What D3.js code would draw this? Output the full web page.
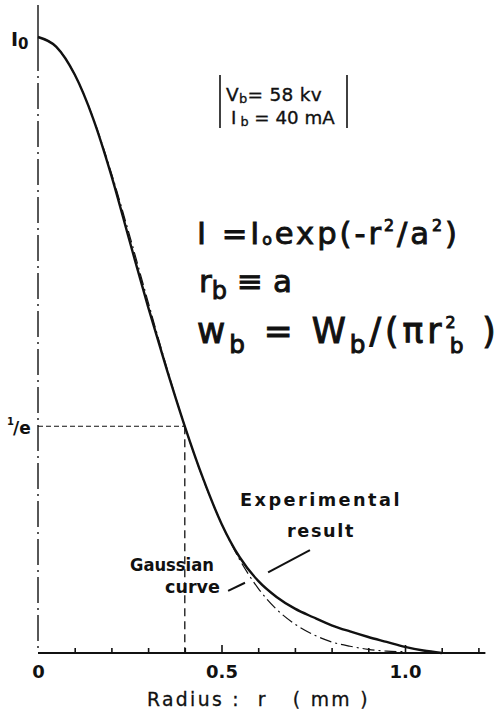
<!DOCTYPE html>
<html>
<head>
<meta charset="utf-8">
<script src="https://cdn.jsdelivr.net/npm/d3@7/dist/d3.min.js"></script>
<style>
  html, body { margin: 0; padding: 0; background: #fff; }
  svg { display: block; }
  text { font-family: "DejaVu Sans", sans-serif; fill: #111; }
</style>
</head>
<body>
<script>
// Radial beam intensity profile, normalised to I0
const radius = [0, 0.05, 0.1, 0.15, 0.2, 0.25, 0.3, 0.35, 0.4, 0.45, 0.5, 0.55, 0.6, 0.65, 0.7, 0.75, 0.8, 0.85, 0.9, 0.95, 1.0, 1.05, 1.1];
const experimental = [1.0, 0.984, 0.939, 0.868, 0.775, 0.668, 0.562, 0.462, 0.368, 0.283, 0.210, 0.155, 0.117, 0.091, 0.072, 0.058, 0.045, 0.035, 0.026, 0.018, 0.010, 0.004, 0.0];
const gaussRadius = [0, 0.05, 0.1, 0.15, 0.2, 0.25, 0.3, 0.35, 0.4, 0.45, 0.5, 0.55, 0.6, 0.65, 0.7, 0.75, 0.8, 0.85, 0.9, 0.95, 1.0];
const gaussian = [1.0, 0.984, 0.939, 0.869, 0.779, 0.677, 0.570, 0.465, 0.368, 0.282, 0.210, 0.151, 0.105, 0.071, 0.047, 0.030, 0.018, 0.011, 0.006, 0.003, 0.002];
const xTicks = [0, 0.1, 0.2, 0.3, 0.4, 0.5, 0.6, 0.7, 0.8, 0.9, 1.0, 1.1, 1.2];
const xTickLabels = {0: "0", 0.5: "0.5", 1.0: "1.0"};
const beamRadius = 0.4;   // r_b = a
const invE = 0.368;       // 1/e level

const W = 501, H = 718;
const svg = d3.select("body").append("svg").attr("width", W).attr("height", H);

const x = d3.scaleLinear().domain([0, 1.2]).range([38, 478.4]);
const y = d3.scaleLinear().domain([0, 1]).range([653, 37]);

// Text block anchored at (px, py), fitted to a given width:
// widened with letter spacing, or squeezed horizontally if too wide
function block(px, py, width, build, attrs = {}) {
  const g = svg.append("g").attr("transform", `translate(${px},${py})`);
  const t = g.append("text").attr("x", 0).attr("y", 0);
  Object.entries(attrs).forEach(([k, v]) => t.attr(k, v));
  build(t);
  const w = t.node().getBBox().width;
  const n = t.text().length;
  if (w < width && n > 1) {
    const ls = (width - w) / (n - 1);
    t.selectAll("tspan").attr("letter-spacing", ls);
    if (t.selectAll("tspan").empty()) t.attr("letter-spacing", ls);
    const w2 = t.node().getBBox().width;
    g.attr("transform", `translate(${px},${py}) scale(${width / w2},1)`);
  } else {
    g.attr("transform", `translate(${px},${py}) scale(${width / w},1)`);
  }
  return t;
}

// x axis: ticks pointing up into the plot
const xAxis = d3.axisBottom(x)
  .tickValues(xTicks)
  .tickSizeInner(-5)
  .tickSizeOuter(0)
  .tickPadding(12)
  .tickFormat(d => xTickLabels[d] || "");
const gx = svg.append("g").attr("transform", `translate(0,${y(0)})`).call(xAxis);
gx.select(".domain").remove();
gx.selectAll(".tick line").attr("stroke", "#111").attr("stroke-width", 1.6)
  .attr("y2", d => (d === 0.5 || d === 1.0) ? -8 : -5)
  .attr("opacity", d => d === 0 ? 0 : 1);
gx.selectAll(".tick text")
  .attr("font-size", 18).attr("font-weight", "bold")
  .attr("fill", "#111").attr("font-family", "DejaVu Sans Condensed, DejaVu Sans, sans-serif");
svg.append("line")
  .attr("x1", x(0)).attr("x2", x(1.2) + 7)
  .attr("y1", y(0)).attr("y2", y(0))
  .attr("stroke", "#111").attr("stroke-width", 2);

// y axis: solid cap above I0, dash-dot below
svg.append("line")
  .attr("x1", x(0)).attr("x2", x(0))
  .attr("y1", 5).attr("y2", y(1) + 8)
  .attr("stroke", "#111").attr("stroke-width", 1.4);
svg.append("line")
  .attr("x1", x(0)).attr("x2", x(0))
  .attr("y1", y(1) + 8).attr("y2", y(0))
  .attr("stroke", "#111").attr("stroke-width", 1.4)
  .attr("stroke-dasharray", "26,5,2,5");

// 1/e guide lines
svg.append("line")
  .attr("x1", x(0)).attr("x2", x(beamRadius))
  .attr("y1", y(invE)).attr("y2", y(invE))
  .attr("stroke", "#111").attr("stroke-width", 1.1)
  .attr("stroke-dasharray", "5,3");
svg.append("line")
  .attr("x1", x(beamRadius)).attr("x2", x(beamRadius))
  .attr("y1", y(invE)).attr("y2", y(0))
  .attr("stroke", "#111").attr("stroke-width", 1.3)
  .attr("stroke-dasharray", "8,5");

// curves
const line = d3.line().curve(d3.curveMonotoneX);
svg.append("path")
  .attr("d", line(gaussRadius.map((r, i) => [x(r), y(gaussian[i])])))
  .attr("fill", "none").attr("stroke", "#111").attr("stroke-width", 1.2)
  .attr("stroke-dasharray", "12,4,2,4");
svg.append("path")
  .attr("d", line(radius.map((r, i) => [x(r), y(experimental[i])])))
  .attr("fill", "none").attr("stroke", "#111").attr("stroke-width", 2.4);

// leader lines (data coordinates)
const leader = (a, b) => svg.append("line")
  .attr("x1", x(a[0])).attr("y1", y(a[1]))
  .attr("x2", x(b[0])).attr("y2", y(b[1]))
  .attr("stroke", "#111").attr("stroke-width", 2);
leader([0.741, 0.167], [0.627, 0.131]);
leader([0.564, 0.114], [0.518, 0.101]);

// y labels
const i0 = svg.append("text").attr("x", 11).attr("y", 46).attr("font-size", 19).attr("font-weight", "bold");
i0.append("tspan").text("I");
i0.append("tspan").attr("dy", 3).attr("font-size", 15).text("0");

svg.append("text").attr("x", 7).attr("y", y(invE) - 1)
  .attr("font-size", 10).attr("font-weight", "bold").text("1");
svg.append("text").attr("x", 13).attr("y", y(invE) + 8)
  .attr("font-size", 17).attr("font-weight", "bold").text("/e");

// beam parameters box
svg.append("line").attr("x1", 220).attr("x2", 220).attr("y1", 75).attr("y2", 128)
  .attr("stroke", "#111").attr("stroke-width", 1.6);
svg.append("line").attr("x1", 347).attr("x2", 347).attr("y1", 75).attr("y2", 128)
  .attr("stroke", "#111").attr("stroke-width", 1.6);
const boxAttrs = { "font-size": 18.5, "stroke": "#111", "stroke-width": 0.35 };
block(226, 101, 96, t => {
  t.append("tspan").text("V");
  t.append("tspan").attr("font-size", 13).attr("dy", 2).text("b");
  t.append("tspan").attr("dy", -2).text("= 58  kv");
}, boxAttrs);
block(231, 124, 104, t => {
  t.append("tspan").text("I");
  t.append("tspan").attr("font-size", 13).attr("dy", 2).text(" b");
  t.append("tspan").attr("dy", -2).text(" = 40 mA");
}, boxAttrs);

// equations
const eqAttrs = { "font-size": 31, "stroke": "#111", "stroke-width": 0.9 };
block(197, 244, 263, t => {
  t.append("tspan").text("I =I");
  t.append("tspan").attr("font-size", 16).attr("dy", 1).text("o");
  t.append("tspan").attr("dy", -1).text("exp(-r");
  t.append("tspan").attr("font-size", 16).attr("dy", -13).text("2");
  t.append("tspan").attr("dy", 13).text("/a");
  t.append("tspan").attr("font-size", 16).attr("dy", -13).text("2");
  t.append("tspan").attr("dy", 13).text(")");
}, eqAttrs);

block(199, 292, 93, t => {
  t.append("tspan").text("r");
  t.append("tspan").attr("font-size", 24).attr("dy", 7).text("b");
  t.append("tspan").attr("dy", -7).text(" \u2261 a");
}, eqAttrs);

block(197, 343, 303, t => {
  t.append("tspan").text("w");
  t.append("tspan").attr("font-size", 25).attr("dy", 10).text("b");
  t.append("tspan").attr("dy", -10).text(" = W");
  t.append("tspan").attr("font-size", 25).attr("dy", 10).text("b");
  t.append("tspan").attr("dy", -10).text("/(\u03c0r");
  t.append("tspan").attr("font-size", 16).attr("dy", -15).text("2");
  t.append("tspan").attr("font-size", 22).attr("dy", 25).attr("dx", -10).text("b");
  t.append("tspan").attr("dy", -10).text(" )");
}, { "font-size": 35, "stroke": "#111", "stroke-width": 1 });

// curve labels
const labAttrs = { "font-size": 18, "font-weight": "bold" };
block(240, 506, 162, t => t.text("Experimental"), labAttrs);
block(287, 537, 68, t => t.text("result"), labAttrs);
block(130, 571, 84, t => t.text("Gaussian"), labAttrs);
block(165, 593, 55, t => t.text("curve"), labAttrs);

// axis title
block(147, 706, 223, t => t.text("Radius :  r   ( mm )"),
  { "font-size": 19, "xml:space": "preserve", "stroke": "#111", "stroke-width": 0.3 });
</script>
</body>
</html>
